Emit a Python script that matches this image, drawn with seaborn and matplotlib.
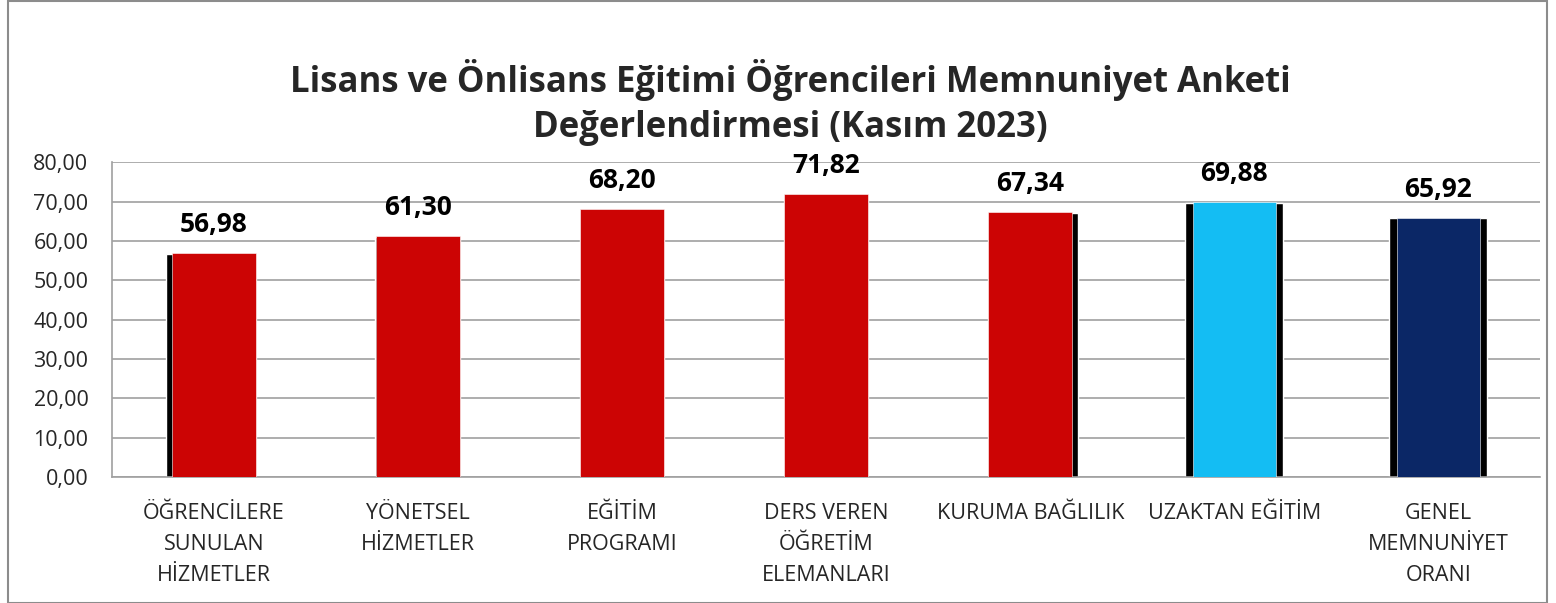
import matplotlib.pyplot as plt
import pandas as pd
import seaborn as sns
from matplotlib.patches import Rectangle

categories = ['ÖĞRENCİLERE\nSUNULAN\nHİZMETLER', 'YÖNETSEL\nHİZMETLER', 'EĞİTİM\nPROGRAMI',
              'DERS VEREN\nÖĞRETİM\nELEMANLARI', 'KURUMA BAĞLILIK', 'UZAKTAN EĞİTİM',
              'GENEL\nMEMNUNİYET\nORANI']
scores = [56.98, 61.30, 68.20, 71.82, 67.34, 69.88, 65.92]
bar_colors = ['#CC0404', '#CC0404', '#CC0404', '#CC0404', '#CC0404', '#14BDF3', '#0B2766']
title = 'Lisans ve Önlisans Eğitimi Öğrencileri Memnuniyet Anketi\nDeğerlendirmesi (Kasım 2023)'

# how far the black perspective shadow sticks out on each side (in category widths)
shadow_left = [0.03, 0.008, 0.0, 0.0, 0.0, 0.035, 0.035]
shadow_right = [0.0, 0.0, 0.0, 0.0, 0.03, 0.035, 0.035]

df = pd.DataFrame({'kategori': categories, 'puan': scores})

sns.set_theme(style="white")
plt.rcParams['font.family'] = ['Open Sans', 'DejaVu Sans']

fig = plt.figure(figsize=(15.56, 6.03), dpi=100)
ax = fig.add_axes([0.072, 0.209, 0.918, 0.522])

# black shadow behind each bar
sns.barplot(data=df, x='kategori', y='puan', color='black', width=0.41,
            saturation=1, ax=ax, zorder=2)
n_shadow = len(ax.patches)
for i, p in enumerate(ax.patches):
    p.set_x(p.get_x() - shadow_left[i])
    p.set_width(p.get_width() + shadow_left[i] + shadow_right[i])
    p.set_y(-0.5)
    p.set_height(p.get_height() + 0.3)

sns.barplot(data=df, x='kategori', y='puan', hue='kategori', palette=bar_colors,
            width=0.41, saturation=1, legend=False, ax=ax, zorder=3)
for p in ax.patches[n_shadow:]:
    p.set_edgecolor('white')
    p.set_linewidth(0.4)

for i, v in enumerate(scores):
    ax.text(i, v + 3.8, f'{v:.2f}'.replace('.', ','), ha='center', va='bottom',
            fontsize=19, fontweight='bold', color='black')

ax.set_ylim(0, 80)
ax.set_yticks(range(0, 81, 10))
ax.set_yticklabels([f'{t:.2f}'.replace('.', ',') for t in range(0, 81, 10)], fontsize=15.5)
ax.set_xticks(range(len(categories)))
ax.set_xticklabels(categories, fontsize=15.5, linespacing=1.6)
ax.tick_params(axis='x', length=0, pad=19)
ax.tick_params(axis='y', length=0, pad=17)
ax.set_xlim(-0.5, len(categories) - 0.5)
ax.set_xlabel('')
ax.set_ylabel('')
ax.yaxis.grid(True, color='#A0A0A0', linewidth=1.2)
ax.set_axisbelow(True)
for s in ['top', 'right']:
    ax.spines[s].set_visible(False)
ax.spines['left'].set_color('#A0A0A0')
ax.spines['bottom'].set_color('#A0A0A0')
ax.spines['left'].set_linewidth(1.2)
ax.spines['bottom'].set_linewidth(1.2)

fig.text(0.508, 0.83, title, ha='center', va='center', fontsize=25,
         fontweight='bold', linespacing=1.35)

fig.patches.append(Rectangle((0.005, 0.0), 0.989, 0.999, transform=fig.transFigure,
                             fill=False, edgecolor='#8C8C8C', linewidth=1.5))

plt.savefig('out.png', dpi=100)
